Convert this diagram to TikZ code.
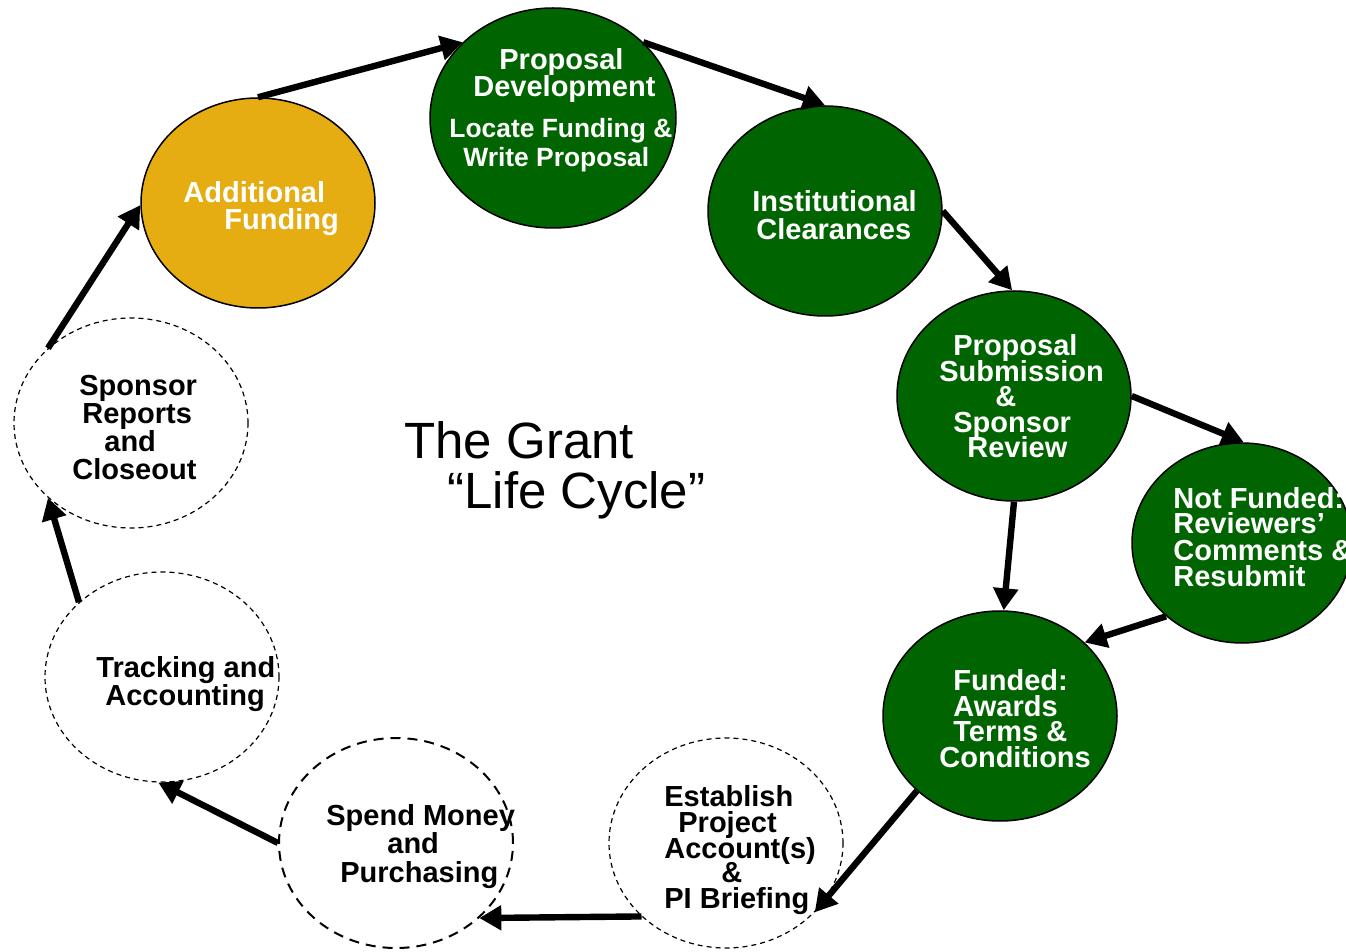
\documentclass[tikz,border=0pt]{standalone}
\usepackage{fontspec}
\setmainfont{Liberation Sans}
\usetikzlibrary{arrows.meta,shapes.geometric}
\definecolor{grn}{RGB}{0,100,0}
\definecolor{gold}{RGB}{229,173,18}
\begin{document}
\begin{tikzpicture}[x=0.5pt,y=-0.5pt,
  stage/.style={ellipse, draw=black, inner sep=0pt, minimum width=117pt, minimum height=105pt},
  solidstage/.style={stage, line width=0.75pt, fill=grn},
  thindash/.style={stage, line width=0.6pt, dash pattern=on 2.5pt off 2pt, fill=white},
  thickdash/.style={stage, line width=1pt, dash pattern=on 5pt off 3.5pt, fill=white},
  lbl/.style={anchor=base west, inner sep=0pt, font=\bfseries\fontsize{14.5}{14.5}\selectfont},
  wl/.style={lbl, text=white},
  bl/.style={lbl, text=black},
  sml/.style={wl, font=\bfseries\fontsize{13.2}{13.2}\selectfont},
  ttl/.style={anchor=base west, inner sep=0pt, font=\fontsize{25.5}{25.5}\selectfont},
  flow/.style={line width=3.2pt, -{Triangle[length=11pt,width=12pt]}}]
\clip (0,0) rectangle (1346,952);
\fill[white] (0,0) rectangle (1346,952);

% stages
\node[solidstage, minimum width=123pt, minimum height=110pt] (pd) at (553,118) {};
\node[stage, line width=0.75pt, fill=gold] (af) at (258,203) {};
\node[solidstage] (ic) at (825,211) {};
\node[solidstage] (ps) at (1014,396) {};
\node[solidstage, minimum width=110pt, minimum height=100pt] (nf) at (1242,543) {};
\node[solidstage] (fu) at (1000,716) {};
\node[thindash] (ep) at (726,843) {};
\node[thickdash] (sm) at (396,843) {};
\node[thindash] (ta) at (162,677) {};
\node[thindash] (sr) at (131,423) {};

% labels
\node[wl] (pd1) at (499,70) {Proposal};
\node[wl] (pd2) at (473,97) {Development};
\node[sml] (pd3) at (449,138) {Locate Funding \&};
\node[sml] (pd4) at (463,167) {Write Proposal};

\node[wl] (af1) at (183,203) {Additional};
\node[wl] (af2) at (224,230) {Funding};

\node[wl] (ic1) at (752,212) {Institutional};
\node[wl] (ic2) at (756,240) {Clearances};

\node[wl] (ps1) at (953,356) {Proposal};
\node[wl] (ps2) at (939,382) {Submission};
\node[wl] (ps3) at (995,407) {\&};
\node[wl] (ps4) at (953,433) {Sponsor};
\node[wl] (ps5) at (967,458) {Review};

\node[wl] (nf1) at (1173,509) {Not Funded:};
\node[wl] (nf2) at (1173,534) {Reviewers’};
\node[wl] (nf3) at (1173,560) {Comments \&};
\node[wl] (nf4) at (1173,587) {Resubmit};

\node[wl] (fu1) at (953,690) {Funded:};
\node[wl] (fu2) at (953,716) {Awards};
\node[wl] (fu3) at (953,741) {Terms \&};
\node[wl] (fu4) at (939,767) {Conditions};

\node[bl] (ep1) at (664,806) {Establish};
\node[bl] (ep2) at (678,832) {Project};
\node[bl] (ep3) at (664,858) {Account(s)};
\node[bl] (ep4) at (721,882) {\&};
\node[bl] (ep5) at (664,908) {PI Briefing};

\node[bl] (sm1) at (326,825) {Spend Money};
\node[bl] (sm2) at (387,853) {and};
\node[bl] (sm3) at (340,882) {Purchasing};

\node[bl] (ta1) at (96,677) {Tracking and};
\node[bl] (ta2) at (105,705) {Accounting};

\node[bl] (sr1) at (79,396) {Sponsor};
\node[bl] (sr2) at (82,424) {Reports};
\node[bl] (sr3) at (104,452) {and};
\node[bl] (sr4) at (72,480) {Closeout};

\node[ttl] (t1) at (404,459) {The Grant};
\node[ttl] (t2) at (447,509) {“Life Cycle”};

% connectors
\draw[flow] (af.90) -- (pd.140);
\draw[flow] (pd.40.5) -- (ic.90);
\draw[flow] (ic.0) -- (ps.91);
\draw[flow] (ps.0) -- (nf.89);
\draw[flow] (ps.270) -- (fu.88);
\draw[flow] (nf.224) -- (fu.41.5);
\draw[flow] (fu.222.5) -- (ep.322.8);
\draw[flow] (ep.221.8) -- (sm.318.2);
\draw[flow] (sm.180) -- (ta.268);
\draw[flow] (ta.138.2) -- (sr.222.8);
\draw[flow] (sr.138.3) -- (af.181);
\end{tikzpicture}
\end{document}
